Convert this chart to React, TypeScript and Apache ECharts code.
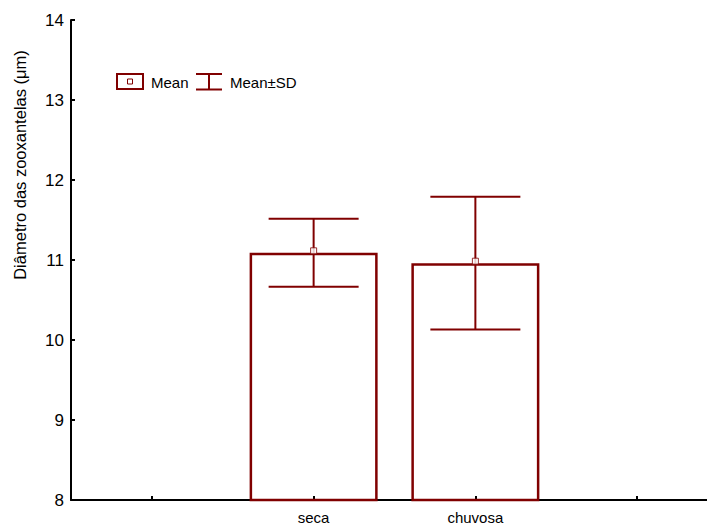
import React, { useEffect, useRef } from "react";
import * as echarts from "echarts";

// Category slots: outer slots are empty padding positions on the axis
const categories = ["", "seca", "chuvosa", ""];
const means = [null, 11.09, 10.96, null];
const sds = [null, 0.425, 0.83, null];
const yTicks = [8, 9, 10, 11, 12, 13, 14];

const DARK_RED = "#800000";
const FONT = "Liberation Sans, Arial, sans-serif";

export default function App() {
  const ref = useRef<HTMLDivElement>(null);

  useEffect(() => {
    if (!ref.current) return;
    const chart = echarts.init(ref.current, undefined, { renderer: "svg" });

    const errData = means
      .map((m, i) => (m == null ? null : [i, (m as number) - (sds[i] as number), (m as number) + (sds[i] as number)]))
      .filter((d) => d != null) as number[][];
    const meanData = means
      .map((m, i) => (m == null ? null : [i, m]))
      .filter((d) => d != null) as number[][];

    chart.setOption({
      animation: false,
      backgroundColor: "#ffffff",
      textStyle: { fontFamily: FONT },
      grid: { left: 71, right: 0, top: 20, bottom: 26, containLabel: false },
      xAxis: {
        type: "category",
        data: categories,
        boundaryGap: true,
        axisLine: { show: true, lineStyle: { color: "#000", width: 2 } },
        axisTick: { show: true, inside: true, length: 4, alignWithLabel: true, lineStyle: { color: "#000", width: 2 } },
        axisLabel: { color: "#000", fontSize: 15, margin: 10, fontFamily: FONT },
        splitLine: { show: false },
      },
      yAxis: {
        type: "value",
        min: yTicks[0],
        max: yTicks[yTicks.length - 1],
        interval: 1,
        axisLine: { show: true, lineStyle: { color: "#000", width: 2 } },
        axisTick: { show: true, inside: true, length: 4, lineStyle: { color: "#000", width: 2 } },
        axisLabel: { color: "#000", fontSize: 17, margin: 7, fontFamily: FONT },
        splitLine: { show: false },
      },
      series: [
        {
          type: "bar",
          data: means,
          barWidth: 128,
          itemStyle: { color: "rgba(255,255,255,0)", borderColor: DARK_RED, borderWidth: 2.5 },
          silent: true,
        },
        {
          type: "custom",
          data: errData,
          renderItem: (params: any, api: any) => {
            const x = api.coord([api.value(0), api.value(1)])[0];
            const yLow = api.coord([api.value(0), api.value(1)])[1];
            const yHigh = api.coord([api.value(0), api.value(2)])[1];
            const half = 45;
            const style = { stroke: DARK_RED, lineWidth: 2, fill: null };
            return {
              type: "group",
              children: [
                { type: "line", shape: { x1: x, y1: yLow, x2: x, y2: yHigh }, style },
                { type: "line", shape: { x1: x - half, y1: yHigh, x2: x + half, y2: yHigh }, style },
                { type: "line", shape: { x1: x - half, y1: yLow, x2: x + half, y2: yLow }, style },
              ],
            };
          },
          z: 3,
        },
        {
          type: "scatter",
          data: meanData,
          symbol: "rect",
          symbolSize: 6,
          symbolOffset: [0, -2],
          itemStyle: { color: "#ffffff", borderColor: DARK_RED, borderWidth: 1 },
          z: 4,
        },
      ],
      graphic: [
        {
          type: "text",
          x: 20,
          y: 165,
          rotation: Math.PI / 2,
          style: {
            text: "Diâmetro das zooxantelas (μm)",
            fontSize: 16.5,
            fontFamily: FONT,
            fill: "#000",
            align: "center",
            verticalAlign: "middle",
          },
        },
        {
          type: "rect",
          shape: { x: 117, y: 74, width: 26, height: 15 },
          style: { fill: "#fff", stroke: DARK_RED, lineWidth: 2 },
        },
        {
          type: "rect",
          shape: { x: 127.5, y: 79, width: 5, height: 5 },
          style: { fill: "#fff", stroke: DARK_RED, lineWidth: 1 },
        },
        {
          type: "text",
          x: 151,
          y: 82,
          style: { text: "Mean", fontSize: 15, fontFamily: FONT, fill: "#000", verticalAlign: "middle" },
        },
        {
          type: "line",
          shape: { x1: 196, y1: 74, x2: 222, y2: 74 },
          style: { stroke: DARK_RED, lineWidth: 2 },
        },
        {
          type: "line",
          shape: { x1: 196, y1: 89.5, x2: 222, y2: 89.5 },
          style: { stroke: DARK_RED, lineWidth: 2 },
        },
        {
          type: "line",
          shape: { x1: 209, y1: 74, x2: 209, y2: 89.5 },
          style: { stroke: DARK_RED, lineWidth: 2 },
        },
        {
          type: "text",
          x: 230,
          y: 82,
          style: { text: "Mean±SD", fontSize: 15, fontFamily: FONT, fill: "#000", verticalAlign: "middle" },
        },
      ],
    });

    return () => chart.dispose();
  }, []);

  // The plotting area runs slightly past the right edge of the window
  return (
    <div
      ref={ref}
      style={{ position: "fixed", left: 0, top: 0, width: 718, height: 526, background: "#fff" }}
    />
  );
}
